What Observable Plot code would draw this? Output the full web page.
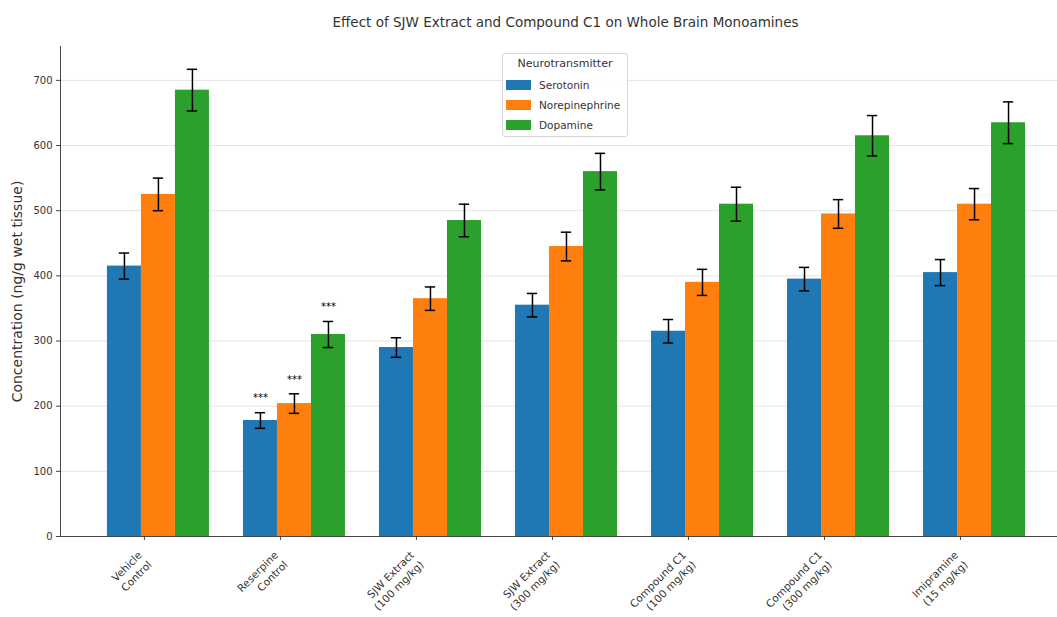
<!DOCTYPE html>
<html><head><meta charset="utf-8">
<script src="https://cdn.jsdelivr.net/npm/d3@7"></script>
<script src="https://cdn.jsdelivr.net/npm/@observablehq/plot@0.6"></script>
<style>
body{margin:0;background:#fff;}
#wrap{position:relative;width:1057px;height:617px;font-family:"DejaVu Sans",sans-serif;}
#legend{position:absolute;left:502px;top:53px;width:126px;height:84px;border:1px solid #d5d5d5;border-radius:3px;background:rgba(255,255,255,0.85);font-size:10.5px;color:#333;box-sizing:border-box;}
#legend .ttl{position:absolute;left:0;right:0;top:3px;text-align:center;line-height:14px;font-size:11px;}
#legend .row{position:absolute;left:3px;height:14px;line-height:14px;white-space:nowrap;}
#legend .sw{display:inline-block;width:25px;height:10px;vertical-align:middle;margin-right:8px;position:relative;top:-1px;}
</style></head><body><div id="wrap"></div>
<script>
const title = "Effect of SJW Extract and Compound C1 on Whole Brain Monoamines";
const yLabel = "Concentration (ng/g wet tissue)";
const legendTitle = "Neurotransmitter";
const groups = ["Vehicle\nControl", "Reserpine\nControl", "SJW Extract\n(100 mg/kg)", "SJW Extract\n(300 mg/kg)", "Compound C1\n(100 mg/kg)", "Compound C1\n(300 mg/kg)", "Imipramine\n(15 mg/kg)"];
const seriesNames = ["Serotonin", "Norepinephrine", "Dopamine"];
const serotonin = [415, 178, 290, 355, 315, 395, 405];
const serotoninErr = [20, 12, 15, 18, 18, 18, 20];
const norepinephrine = [525, 204, 365, 445, 390, 495, 510];
const norepinephrineErr = [25, 15, 18, 22, 20, 22, 24];
const dopamine = [685, 310, 485, 560, 510, 615, 635];
const dopamineErr = [32, 20, 25, 28, 26, 31, 32];
const significance = ["", "***", "", "", "", "", ""];
const colors = ["#1f77b4", "#ff7f0e", "#2ca02c"];
const yTicks = [0, 100, 200, 300, 400, 500, 600, 700];

const barWidth = 0.25;
const capHalf = 0.038;
const xDomain = [-0.72, 6.61];
const values = [serotonin, norepinephrine, dopamine];
const errs = [serotoninErr, norepinephrineErr, dopamineErr];
const rows = [];
groups.forEach((g, i) => seriesNames.forEach((s, j) => {
  const c = i + (j - 1) * barWidth;
  rows.push({group: g, i, series: s, center: c, x1: c - barWidth / 2, x2: c + barWidth / 2,
    value: values[j][i], err: errs[j][i], sig: significance[i]});
}));

const plot = Plot.plot({
  width: 1057, height: 617,
  marginLeft: 60, marginRight: 0, marginTop: 46, marginBottom: 81,
  style: {fontFamily: "DejaVu Sans, sans-serif", fontSize: "10px", color: "#333", background: "white"},
  x: {domain: xDomain},
  y: {domain: [0, 752]},
  color: {domain: seriesNames, range: colors},
  marks: [
    Plot.gridY(yTicks, {stroke: "#b0b0b0", strokeOpacity: 0.35}),
    Plot.rect(rows, {x1: "x1", x2: "x2", y1: () => 0, y2: "value", fill: "series"}),
    Plot.ruleX(rows, {x: "center", y1: d => d.value - d.err, y2: d => d.value + d.err, stroke: "#000", strokeWidth: 1.5}),
    Plot.ruleY(rows, {y: d => d.value + d.err, x1: d => d.center - capHalf, x2: d => d.center + capHalf, stroke: "#000", strokeWidth: 1.5}),
    Plot.ruleY(rows, {y: d => d.value - d.err, x1: d => d.center - capHalf, x2: d => d.center + capHalf, stroke: "#000", strokeWidth: 1.5}),
    Plot.text(rows.filter(d => d.sig), {x: "center", y: d => d.value + d.err, text: "sig", dy: -14.5, fontSize: 10, fill: "#000"}),
    Plot.axisY({ticks: yTicks, tickSize: 4, tickPadding: 4, label: null, stroke: "#444"}),
    Plot.axisX({ticks: d3.range(groups.length), tickFormat: i => groups[i], tickRotate: -45, tickSize: 4, tickPadding: 17, dx: -14, label: null, lineHeight: 1.3, fontSize: 10.5, stroke: "#444"}),
    Plot.ruleY([0], {stroke: "#444"}),
    Plot.ruleX([xDomain[0]], {stroke: "#444"}),
    Plot.text([title], {frameAnchor: "top", dy: -29, dx: 6.5, fontSize: 13.5, fill: "#333"}),
    Plot.text([yLabel], {frameAnchor: "left", textAnchor: "middle", rotate: -90, dx: -43, fontSize: 14, fill: "#333"})
  ]
});
const wrap = document.getElementById("wrap");
wrap.appendChild(plot);

const color = plot.scale("color");
const lg = document.createElement("div");
lg.id = "legend";
lg.innerHTML = `<div class="ttl">${legendTitle}</div>` +
  seriesNames.map((s, k) => `<div class="row" style="top:${24 + k * 20}px"><span class="sw" style="background:${color.apply(s)}"></span>${s}</div>`).join("");
wrap.appendChild(lg);
</script>
</body></html>
